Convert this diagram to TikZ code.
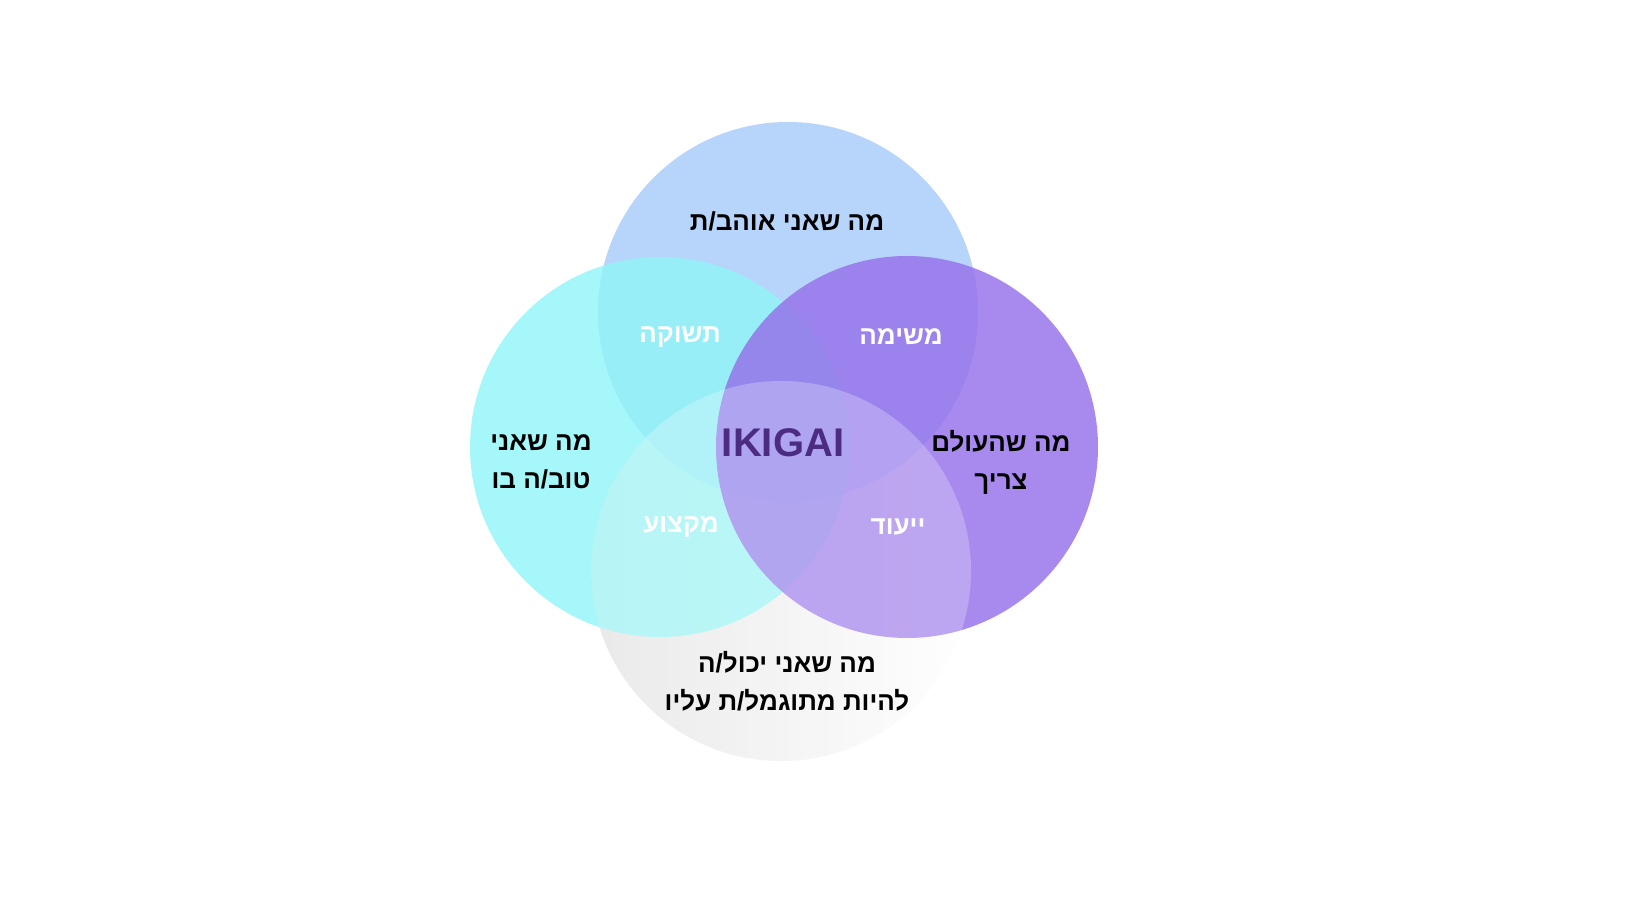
\documentclass[tikz,border=0pt]{standalone}
\usepackage{fontspec}
\setmainfont{Liberation Sans}
\newfontfamily\heb[Script=Hebrew]{Liberation Sans}
\TeXXeTstate=1
\definecolor{ctop}{HTML}{B7D4FB}
\definecolor{cleft}{HTML}{8FF5F7}
\definecolor{cright}{HTML}{9570EA}
\definecolor{ikig}{HTML}{4B2C82}
\begin{document}
\begin{tikzpicture}[x=0.5pt,y=-0.5pt,
  lbl/.style={font=\heb\bfseries\fontsize{13}{19}\selectfont,align=center,text=black},
  wl/.style={font=\heb\bfseries\fontsize{13}{16}\selectfont,text=white}]
\shade[left color=gray!22,right color=white] (781,571) circle[radius=190];
\fill[ctop] (788,312) circle[radius=190];
\fill[cleft,fill opacity=0.8] (660,447) circle[radius=190];
\fill[cright,fill opacity=0.82] (907,447) circle[radius=191];
\fill[white,fill opacity=0.25] (781,571) circle[radius=190];
\node[lbl] (top) at (787,221) {\beginR מה שאני אוהב/ת\endR};
\node[wl] (t1) at (680,337) {\beginR תשוקה\endR};
\node[wl] (t2) at (901,337) {\beginR משימה\endR};
\node[lbl] (left) at (541,462) {\beginR מה שאני\endR\\\beginR טוב/ה בו\endR};
\node[font=\bfseries\fontsize{20}{24}\selectfont,text=ikig] (ik) at (783,443) {IKIGAI};
\node[lbl] (right) at (1001,462) {\beginR מה שהעולם\endR\\\beginR צריך\endR};
\node[wl] (t3) at (681,527) {\beginR מקצוע\endR};
\node[wl] (t4) at (898,527) {\beginR ייעוד\endR};
\node[lbl] (bot) at (787,681) {\beginR מה שאני יכול/ה\endR\\\beginR להיות מתוגמל/ת עליו\endR};
\pgfresetboundingbox
\useasboundingbox (0,0) rectangle (1640,924);
\end{tikzpicture}
\end{document}
